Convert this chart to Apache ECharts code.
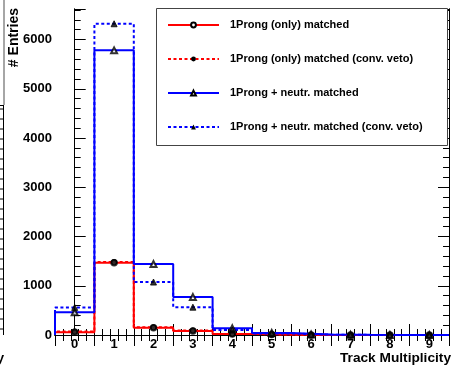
<!DOCTYPE html>
<html>
<head>
<meta charset="utf-8">
<script src="https://cdn.jsdelivr.net/npm/echarts@6/dist/echarts.min.js"></script>
<style>
  html, body { margin: 0; padding: 0; background: #fff; }
  #chart { width: 452px; height: 365px; }
</style>
</head>
<body>
<div id="chart"></div>
<script>
// ---- data ----
const categories = ['0', '1', '2', '3', '4', '5', '6', '7', '8', '9'];
const binCenters = [0, 1, 2, 3, 4, 5, 6, 7, 8, 9];
const redSolid  = [55, 1465, 145, 80, 20, 8, 2, 1, 0, 0];      // 1Prong (only) matched
const redDotted = [70, 1480, 155, 90, 22, 8, 2, 1, 0, 0];      // 1Prong (only) matched (conv. veto)
const blueSolid = [460, 5780, 1440, 770, 135, 40, 10, 3, 1, 0]; // 1Prong + neutr. matched
const blueDotted= [560, 6320, 1075, 565, 100, 30, 8, 2, 1, 0];  // 1Prong + neutr. matched (conv. veto)
const seriesNames = [
  '1Prong (only) matched',
  '1Prong (only) matched (conv. veto)',
  '1Prong + neutr. matched',
  '1Prong + neutr. matched (conv. veto)'
];
const yMax = 6620;

const FONT = "'Liberation Sans', Arial, Helvetica, sans-serif";

function steps(vals) {
  const pts = [[binCenters[0] - 0.5, 0]];
  vals.forEach((v, i) => {
    pts.push([binCenters[i] - 0.5, v]);
    pts.push([binCenters[i] + 0.5, v]);
  });
  pts.push([binCenters[binCenters.length - 1] + 0.5, 0]);
  return pts;
}
function pts(vals) { return vals.map((v, i) => [binCenters[i], v]); }

const defs = [
  { name: seriesNames[0], vals: redSolid,  color: '#ff0000', type: 'solid', symbol: 'emptyCircle' },
  { name: seriesNames[1], vals: redDotted, color: '#ff0000', type: [3, 2.5], symbol: 'circle' },
  { name: seriesNames[2], vals: blueSolid, color: '#0000ff', type: 'solid', symbol: 'emptyTriangle' },
  { name: seriesNames[3], vals: blueDotted,color: '#0000ff', type: [3, 2.5], symbol: 'triangle' }
];

const series = [];
defs.forEach(d => {
  series.push({
    name: d.name, type: 'line', xAxisIndex: 1, yAxisIndex: 0,
    data: steps(d.vals), symbol: d.symbol, showSymbol: false, silent: true,
    lineStyle: { color: d.color, width: 2, type: d.type },
    itemStyle: { color: '#000' }, z: 2, animation: false
  });
});
defs.forEach(d => {
  series.push({
    type: 'scatter', xAxisIndex: 1, yAxisIndex: 0, data: pts(d.vals),
    symbol: d.symbol, symbolSize: d.symbol.toLowerCase().indexOf('triangle') >= 0 ? 6 : 5.5,
    itemStyle: { color: '#000', borderColor: '#000', borderWidth: 1 }, silent: true, z: 3, animation: false
  });
});

const tickAxisX = (pos) => ({
  type: 'value', position: pos, min: -0.5, max: 9.5, interval: 1,
  axisLine: { show: true, lineStyle: { color: '#000', width: 1 } },
  axisTick: { show: true, inside: true, length: 11, lineStyle: { color: '#000' } },
  minorTick: { show: true, splitNumber: 5, length: 6, lineStyle: { color: '#000' } },
  axisLabel: { show: false }, splitLine: { show: false }, minorSplitLine: { show: false }
});
const tickAxisY = (pos, interval, len, labels) => ({
  type: 'value', position: pos, min: 0, max: yMax, interval: interval,
  axisLine: { show: true, lineStyle: { color: '#000', width: 1 } },
  axisTick: { show: true, inside: true, length: len, lineStyle: { color: '#000' } },
  axisLabel: labels ? {
    show: true, margin: 3, fontFamily: FONT, fontWeight: 'bold', fontSize: 13, color: '#000',
    formatter: v => (v % 1000 === 0 ? String(v) : '')
  } : { show: false },
  splitLine: { show: false }
});

const leftTicks = [];
for (let y = 109; y <= 332; y += 10) {
  leftTicks.push({ type: 'line', shape: { x1: 0, y1: y, x2: 3, y2: y }, style: { stroke: '#000', lineWidth: 1 } });
}

const option = {
  backgroundColor: '#fff',
  animation: false,
  grid: { left: 55, top: 9, width: 394, height: 326, containLabel: false },
  xAxis: [
    {
      type: 'category', position: 'bottom', data: categories, boundaryGap: true,
      axisLine: { show: true, lineStyle: { color: '#000' } },
      axisTick: { show: false },
      axisLabel: { margin: 3, fontFamily: FONT, fontWeight: 'bold', fontSize: 13, color: '#000' },
      splitLine: { show: false }
    },
    tickAxisX('bottom'),
    tickAxisX('top')
  ],
  yAxis: [
    tickAxisY('left', 1000, 11, true),
    tickAxisY('left', 200, 6, false),
    tickAxisY('right', 1000, 11, false),
    tickAxisY('right', 200, 6, false)
  ],
  legend: {
    data: seriesNames, orient: 'vertical', left: 167, top: 19,
    itemWidth: 51, itemHeight: 6, itemGap: 22, padding: 0, selectedMode: false,
    textStyle: { fontFamily: FONT, fontWeight: 'bold', fontSize: 11, color: '#000', lineHeight: 12, padding: [0, 0, 0, 6] },
    z: 6
  },
  graphic: [
    { type: 'rect', z: 5, shape: { x: 156.5, y: 8.5, width: 291, height: 137 },
      style: { fill: '#fff', stroke: '#444', lineWidth: 1 } },
    { type: 'text', x: 14, y: 8, rotation: Math.PI / 2, z: 5,
      style: { text: '# Entries', align: 'right', verticalAlign: 'middle', fill: '#000',
               fontFamily: FONT, fontWeight: 'bold', fontSize: 14 } },
    { type: 'text', x: 451, y: 358, z: 5,
      style: { text: 'Track Multiplicity', align: 'right', verticalAlign: 'middle', fill: '#000',
               fontFamily: FONT, fontWeight: 'bold', fontSize: 13.7 } },
    // fragment of the neighbouring pad on the left edge
    { type: 'line', shape: { x1: 4, y1: 0, x2: 4, y2: 105 }, style: { stroke: '#888', lineWidth: 1.5 } },
    { type: 'line', shape: { x1: 0, y1: 105.5, x2: 4, y2: 105.5 }, style: { stroke: '#000', lineWidth: 1 } },
    { type: 'line', shape: { x1: 3.5, y1: 105, x2: 3.5, y2: 335 }, style: { stroke: '#000', lineWidth: 1 } },
    ...leftTicks,
    { type: 'text', x: 4, y: 358, style: { text: 'y', align: 'right', verticalAlign: 'middle', fill: '#000',
               fontFamily: FONT, fontWeight: 'bold', fontSize: 13.7 } }
  ],
  series: series
};

const chart = echarts.init(document.getElementById('chart'), null, { renderer: 'canvas' });
chart.setOption(option);
</script>
</body>
</html>
